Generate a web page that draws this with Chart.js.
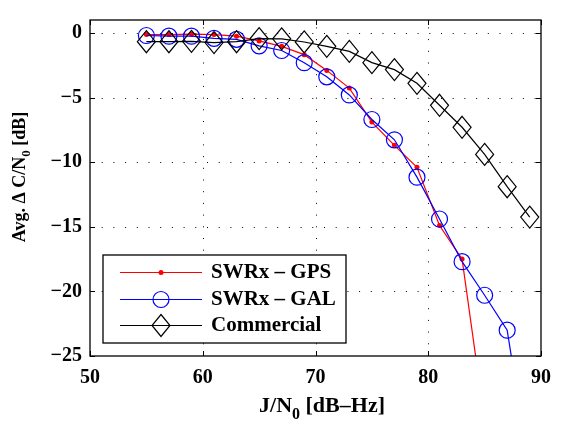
<!DOCTYPE html>
<html>
<head>
<meta charset="utf-8">
<script src="https://cdn.jsdelivr.net/npm/chart.js@4/dist/chart.umd.min.js"></script>
<style>
html,body{margin:0;padding:0;background:#fff;}
canvas{display:block;}
</style>
</head>
<body>
<canvas id="c" width="561" height="423"></canvas>
<script>
// ---- data ----
const xTicks = [50, 60, 70, 80, 90];
const yTicks = [-25, -20, -15, -10, -5, 0];
const xGPS = [55, 57, 59, 61, 63, 65, 67, 69, 71, 73, 75, 77, 79, 81, 83, 85];
const yGPS = [-0.13, -0.13, -0.1, -0.13, -0.25, -0.62, -1.04, -1.68, -2.9, -4.27, -6.9, -8.7, -10.4, -14.9, -17.5, -30];
const xGAL = [55, 57, 59, 61, 63, 65, 67, 69, 71, 73, 75, 77, 79, 81, 83, 85, 87, 89];
const yGAL = [-0.2, -0.25, -0.25, -0.42, -0.5, -1.0, -1.36, -2.3, -3.4, -4.8, -6.7, -8.27, -11.16, -14.4, -17.7, -20.3, -23.0, -34];
const xCOM = [55, 57, 59, 61, 63, 65, 67, 69, 71, 73, 75, 77, 79, 81, 83, 85, 87, 89];
const yCOM = [-0.68, -0.68, -0.65, -0.75, -0.68, -0.44, -0.46, -0.7, -1.04, -1.43, -2.3, -2.84, -3.9, -5.6, -7.3, -9.4, -11.9, -14.25];
const seriesLabels = ['SWRx \u2013 GPS', 'SWRx \u2013 GAL', 'Commercial'];
const xTitle = ['J/N', '0', ' [dB\u2013Hz]'];
const yTitle = ['Avg. \u0394 C/N', '0', ' [dB]'];

const FAM = '"Liberation Serif", "Times New Roman", serif';
const DW = 9, DH = 11; // diamond half width / half height

function pts(xs, ys) { return xs.map((x, i) => ({x: x, y: ys[i]})); }
function fmt(v) { return v < 0 ? '\u2212' + Math.abs(v) : String(v); }

function drawDiamond(ctx, x, y) {
  ctx.beginPath();
  ctx.moveTo(x, y - DH); ctx.lineTo(x + DW, y); ctx.lineTo(x, y + DH); ctx.lineTo(x - DW, y); ctx.closePath();
  ctx.stroke();
}

const framePlugin = {
  id: 'frame',
  beforeDraw(chart) {
    const ctx = chart.ctx;
    ctx.save(); ctx.fillStyle = '#fff'; ctx.fillRect(0, 0, chart.width, chart.height); ctx.restore();
  },
  beforeDatasetsDraw(chart) {
    const {ctx, chartArea: a, scales} = chart;
    ctx.save();
    ctx.strokeStyle = '#000'; ctx.lineWidth = 1; ctx.setLineDash([1, 10.7]);
    xTicks.forEach(v => {
      const px = Math.round(scales.x.getPixelForValue(v)) + 0.5;
      if (px <= a.left + 1 || px >= a.right - 1) return;
      ctx.beginPath(); ctx.moveTo(px, a.bottom); ctx.lineTo(px, a.top); ctx.stroke();
    });
    yTicks.forEach(v => {
      const py = Math.round(scales.y.getPixelForValue(v)) + 0.5;
      if (py <= a.top + 1 || py >= a.bottom - 1) return;
      ctx.beginPath(); ctx.moveTo(a.left, py); ctx.lineTo(a.right, py); ctx.stroke();
    });
    ctx.restore();
  },
  afterDatasetsDraw(chart) {
    const {ctx, chartArea: a, scales} = chart;
    ctx.save();
    // diamond markers for the Commercial series at the positions computed by Chart.js
    const meta = chart.getDatasetMeta(2);
    ctx.save();
    ctx.beginPath(); ctx.rect(a.left, a.top, a.right - a.left, a.bottom - a.top); ctx.clip();
    ctx.strokeStyle = '#000'; ctx.lineWidth = 1.2;
    meta.data.forEach(el => drawDiamond(ctx, el.x, el.y));
    ctx.restore();

    ctx.strokeStyle = '#000'; ctx.lineWidth = 1.3; ctx.setLineDash([]);
    ctx.strokeRect(a.left, a.top, a.right - a.left, a.bottom - a.top);
    ctx.lineWidth = 1;
    const tl = 5;
    xTicks.forEach(v => {
      const px = Math.round(scales.x.getPixelForValue(v)) + 0.5;
      ctx.beginPath();
      ctx.moveTo(px, a.bottom); ctx.lineTo(px, a.bottom - tl);
      ctx.moveTo(px, a.top); ctx.lineTo(px, a.top + tl);
      ctx.stroke();
    });
    yTicks.forEach(v => {
      const py = Math.round(scales.y.getPixelForValue(v)) + 0.5;
      ctx.beginPath();
      ctx.moveTo(a.left, py); ctx.lineTo(a.left + tl, py);
      ctx.moveTo(a.right, py); ctx.lineTo(a.right - tl, py);
      ctx.stroke();
    });

    // axis titles with subscript
    function subText(parts, x, y, rot, size) {
      const F = 'bold ' + size + 'px ' + FAM;
      const SF = 'bold ' + Math.round(size * 0.72) + 'px ' + FAM;
      ctx.save();
      ctx.translate(x, y); ctx.rotate(rot);
      ctx.fillStyle = '#000'; ctx.textBaseline = 'alphabetic'; ctx.textAlign = 'left';
      ctx.font = F; const w0 = ctx.measureText(parts[0]).width; const w2 = ctx.measureText(parts[2]).width;
      ctx.font = SF; const w1 = ctx.measureText(parts[1]).width;
      const total = w0 + w1 + w2;
      let cx = -total / 2;
      ctx.font = F; ctx.fillText(parts[0], cx, 0); cx += w0;
      ctx.font = SF; ctx.fillText(parts[1], cx, size * 0.3); cx += w1;
      ctx.font = F; ctx.fillText(parts[2], cx, 0);
      ctx.restore();
    }
    subText(xTitle, 322, 412, 0, 22);
    subText(yTitle, 25, 177, -Math.PI / 2, 18);

    // legend
    const L = {x0: 103, x1: 346, y0: 255, y1: 343};
    ctx.fillStyle = '#fff';
    ctx.fillRect(L.x0, L.y0, L.x1 - L.x0, L.y1 - L.y0);
    ctx.lineWidth = 1.3; ctx.strokeStyle = '#000';
    ctx.strokeRect(L.x0, L.y0, L.x1 - L.x0, L.y1 - L.y0);
    const rows = [272, 299, 325];
    chart.data.datasets.forEach((ds, i) => {
      const y = rows[i] + 0.5;
      ctx.strokeStyle = ds.borderColor; ctx.lineWidth = ds.borderWidth;
      ctx.beginPath(); ctx.moveTo(120, y); ctx.lineTo(202, y); ctx.stroke();
      const mx = 161;
      if (i === 2) {
        ctx.strokeStyle = '#000'; ctx.lineWidth = 1.2; drawDiamond(ctx, mx, y);
      } else {
        ctx.beginPath(); ctx.arc(mx, y, ds.pointRadius, 0, Math.PI * 2);
        ctx.fillStyle = ds.pointBackgroundColor; ctx.fill();
        if (ds.pointBorderWidth > 0) { ctx.strokeStyle = ds.pointBorderColor; ctx.lineWidth = ds.pointBorderWidth; ctx.stroke(); }
      }
      ctx.fillStyle = '#000'; ctx.font = 'bold 21px ' + FAM; ctx.textBaseline = 'middle'; ctx.textAlign = 'left';
      ctx.fillText(ds.label, 211, rows[i] + 1);
    });
    ctx.restore();
  }
};

new Chart(document.getElementById('c'), {
  type: 'scatter',
  data: {
    datasets: [
      {label: seriesLabels[0], data: pts(xGPS, yGPS), showLine: true, borderColor: '#ff0000', borderWidth: 1.2,
       pointStyle: 'circle', pointRadius: 2.5, pointBackgroundColor: '#ff0000', pointBorderColor: '#ff0000', pointBorderWidth: 0, order: 2, tension: 0},
      {label: seriesLabels[1], data: pts(xGAL, yGAL), showLine: true, borderColor: '#0000ff', borderWidth: 1.2,
       pointStyle: 'circle', pointRadius: 8, pointBackgroundColor: 'rgba(0,0,0,0)', pointBorderColor: '#0000ff', pointBorderWidth: 1.2, order: 1, tension: 0},
      {label: seriesLabels[2], data: pts(xCOM, yCOM), showLine: true, borderColor: '#000000', borderWidth: 1.2,
       pointRadius: 0, order: 0, tension: 0}
    ]
  },
  options: {
    responsive: false, animation: false, devicePixelRatio: 1,
    layout: {padding: {left: 0, right: 12, top: 5, bottom: 0}},
    plugins: {legend: {display: false}, tooltip: {enabled: false}},
    events: [],
    scales: {
      x: {
        type: 'linear', min: 50, max: 90,
        afterBuildTicks: s => { s.ticks = xTicks.map(v => ({value: v})); },
        afterFit: s => { s.height = 67; },
        grid: {display: false, drawTicks: false}, border: {display: false},
        ticks: {color: '#000', font: {family: FAM, size: 20, weight: 'bold'}, padding: 10, maxRotation: 0,
                callback: v => fmt(v)}
      },
      y: {
        type: 'linear', min: -25, max: 1,
        afterBuildTicks: s => { s.ticks = yTicks.map(v => ({value: v})); },
        afterFit: s => { s.width = 90; },
        grid: {display: false, drawTicks: false}, border: {display: false},
        ticks: {color: '#000', font: {family: FAM, size: 20, weight: 'bold'}, padding: 8,
                callback: v => fmt(v)}
      }
    }
  },
  plugins: [framePlugin]
});
</script>
</body>
</html>
